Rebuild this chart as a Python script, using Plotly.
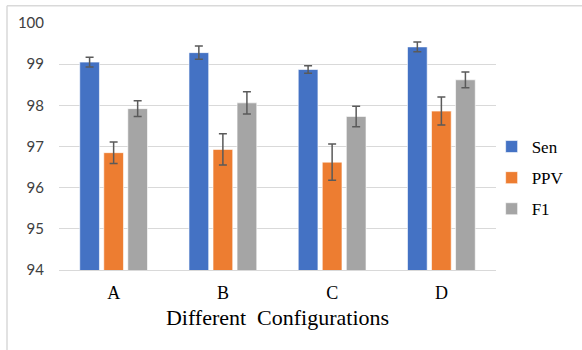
import plotly.graph_objects as go

categories = ["A", "B", "C", "D"]
sen = [99.05, 99.28, 98.87, 99.42]
sen_err = [0.12, 0.16, 0.09, 0.12]
ppv = [96.85, 96.93, 96.62, 97.86]
ppv_err = [0.26, 0.38, 0.44, 0.34]
f1 = [97.92, 98.06, 97.73, 98.62]
f1_err = [0.19, 0.27, 0.25, 0.19]

series = [
    ("Sen", sen, sen_err, "#4472C4"),
    ("PPV", ppv, ppv_err, "#ED7D31"),
    ("F1", f1, f1_err, "#A5A5A5"),
]

fig = go.Figure()
for name, vals, errs, color in series:
    fig.add_trace(go.Bar(
        x=categories, y=vals, name=name, legendgroup=name,
        marker=dict(color=color, line=dict(color="rgba(255,255,255,0.6)", width=1)),
        error_y=dict(type="data", array=errs, visible=True, color="#5a5a5a", thickness=1.5, width=4),
    ))

fig.update_layout(
    width=582, height=350,
    margin=dict(l=59, r=86, t=23, b=80),
    paper_bgcolor="white", plot_bgcolor="white",
    barmode="group", bargap=0.34, bargroupgap=0.18,
    font=dict(family="Liberation Serif", color="#000000"),
    legend=dict(
        x=0.99, xanchor="left", y=0.3725, yanchor="middle",
        bgcolor="rgba(0,0,0,0)",
        font=dict(family="Liberation Serif", size=17, color="#000"),
        tracegroupgap=6, itemwidth=30,
    ),
    shapes=[
        dict(type="line", xref="paper", yref="paper", x0=-0.119, x1=1.2, y0=1.070, y1=1.070,
             line=dict(color="#D9D9D9", width=1.5)),
        dict(type="line", xref="paper", yref="paper", x0=-0.119, x1=-0.119, y0=1.070, y1=-0.33,
             line=dict(color="#D9D9D9", width=1.5)),
    ],
)
fig.update_xaxes(
    showgrid=False, showline=True, linecolor="#D9D9D9", linewidth=1,
    tickfont=dict(family="Liberation Serif", size=18, color="#000"),
    ticklabelstandoff=6,
    title=dict(text="Different  Configurations", font=dict(family="Liberation Serif", size=22, color="#000"), standoff=8),
    ticks="",
)
fig.update_yaxes(
    range=[94, 100], dtick=1, showgrid=True, gridcolor="#D9D9D9", gridwidth=1,
    zeroline=False, showline=False,
    tickfont=dict(family="Lato", size=15, color="#404040"),
    ticklabelstandoff=14,
)

fig.write_html("out.html", config={"displayModeBar": False},
               post_script="document.body.style.margin='0';")
